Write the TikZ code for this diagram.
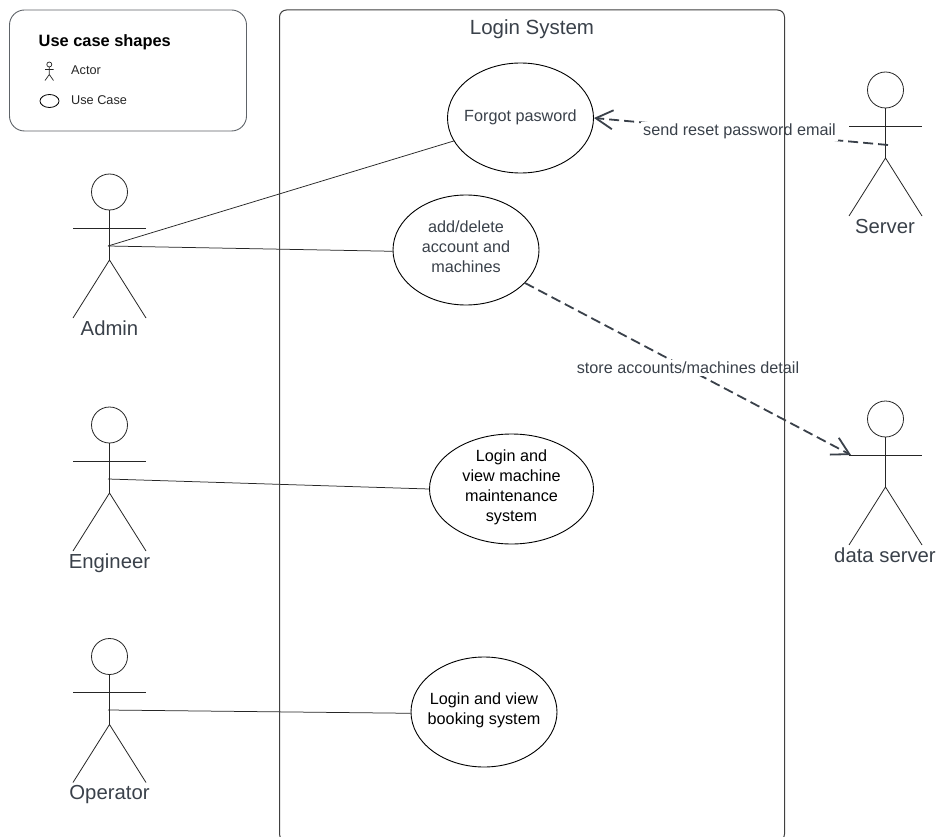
\documentclass[tikz,border=0pt]{standalone}
\usepackage{fontspec}
\setmainfont{Liberation Sans}
\usetikzlibrary{arrows.meta,shapes.geometric}
\definecolor{ink}{HTML}{3A414A}
\definecolor{framec}{HTML}{5E6368}
\tikzset{
  shapeln/.style={draw=black!85,line width=0.8pt},
  ucase/.style={ellipse,draw=black,line width=0.9pt,fill=white,inner sep=0pt,minimum width=146pt,minimum height=110pt,font=\fontsize{16.2}{19.8}\selectfont},
  assoc/.style={draw=black!85,line width=0.75pt},
  depend/.style={draw=ink,line width=1.8pt,dash pattern=on 10pt off 5pt,-{Straight Barb[length=17pt,width=19pt,line width=1.8pt]}},
  lbl/.style={text=ink,fill=white,inner sep=2pt,font=\fontsize{16.2}{19}\selectfont},
  actorname/.style={text=ink,inner sep=0pt,font=\fontsize{20.3}{24}\selectfont},
}
\newcommand{\stickman}[3]{%
  \coordinate (#1) at (#2,#3);
  \draw[shapeln] (#2,#3) circle (18);
  \draw[shapeln] (#2,#3+18) -- (#2,#3+68);
  \draw[shapeln] (#2-36.5,#3+36) -- (#2+36.5,#3+36);
  \draw[shapeln] (#2-36.5,#3+126) -- (#2,#3+68) -- (#2+36.5,#3+126);
}
% text set inside an ellipse without widening it: #1 = lift, #2 = the lines
\newcommand{\casetext}[2]{\raisebox{#1}[0pt][0pt]{\makebox[0pt][c]{\parbox{140pt}{\centering #2}}}}
\begin{document}
\begin{tikzpicture}[x=1pt,y=-1pt]
\useasboundingbox (0,0) rectangle (939,837);
\fill[white] (0,0) rectangle (939,837);
% legend
\draw[framec,line width=0.9pt,rounded corners=15pt] (9.5,10) rectangle (246.5,131);
\node[anchor=west,inner sep=0pt,font=\bfseries\fontsize{16.4}{19}\selectfont] (legendtitle) at (38.5,42.5) {Use case shapes};
\node[anchor=west,inner sep=0pt,font=\fontsize{12.7}{15}\selectfont,text=black!85] (legendactor) at (71,70) {Actor};
\node[anchor=west,inner sep=0pt,font=\fontsize{12.7}{15}\selectfont,text=black!85] (legendcase) at (71,100) {Use Case};
\draw[black!85,line width=0.7pt] (49.3,64.5) circle (2.5);
\draw[black!85,line width=0.7pt] (49.3,67) -- (49.3,74.5) (45,69.5) -- (53.5,69.5) (45,80.5) -- (49.3,74.5) -- (53.5,80.5);
\node[ellipse,draw=black,line width=0.8pt,minimum width=19pt,minimum height=13pt,inner sep=0pt] (legendell) at (49.5,101) {};
% actors
\stickman{admin}{109.5}{192}
\stickman{engineer}{109.5}{425}
\stickman{operator}{109.5}{656.5}
\stickman{server}{885.5}{90}
\stickman{dataserver}{885.5}{419}
\node[actorname] (adminname) at (109.5,328) {Admin};
\node[actorname] (engineername) at (109.5,563.5) {Engineer};
\node[actorname] (operatorname) at (109.5,795) {Operator};
\node[actorname] (servername) at (885,226.5) {Server};
\node[actorname] (dataname) at (885,555.5) {data server};
% use cases
\node[ucase,text=ink] (forgot) at (520.5,118) {\casetext{-4pt}{Forgot pasword}};
\node[ucase,text=ink] (adddel) at (466,250) {\casetext{-1pt}{add/delete\\account and\\machines}};
\node[ucase,minimum width=164pt,text=black] (loginm) at (511.5,489) {\casetext{-2.5pt}{Login and\\view machine\\maintenance\\system}};
\node[ucase,text=black] (loginb) at (484,712) {\casetext{-2.5pt}{Login and view\\booking system}};
% connector ends
\coordinate (adminhub) at (108,246);
\coordinate (enghub) at (108,479);
\coordinate (ophub) at (108,710);
\coordinate (serverhub) at (888,145);
\coordinate (datahub) at (851,455);
\coordinate (addout) at (525,283);
\draw[assoc] (adminhub) -- (forgot.199.5);
\draw[assoc] (adminhub) -- (adddel.181.6);
\draw[assoc] (enghub) -- (loginm.west);
\draw[assoc] (ophub) -- (loginb.181.6);
\draw[depend] (serverhub) -- (forgot.east);
\draw[depend] (addout) -- (datahub);
\node[lbl] (sendlbl) at (739.5,131.5) {send reset password email};
\node[lbl] (storelbl) at (688,368) {store accounts/machines detail};
% system frame
\draw[black!75!white,line width=1pt,rounded corners=7pt] (279.5,10) -- (784.5,10) -- (784.5,841) -- (279.5,841) -- cycle;
\node[text=ink,inner sep=0pt,font=\fontsize{20.5}{24}\selectfont] (systitle) at (532,29) {Login System};
\end{tikzpicture}
\end{document}
